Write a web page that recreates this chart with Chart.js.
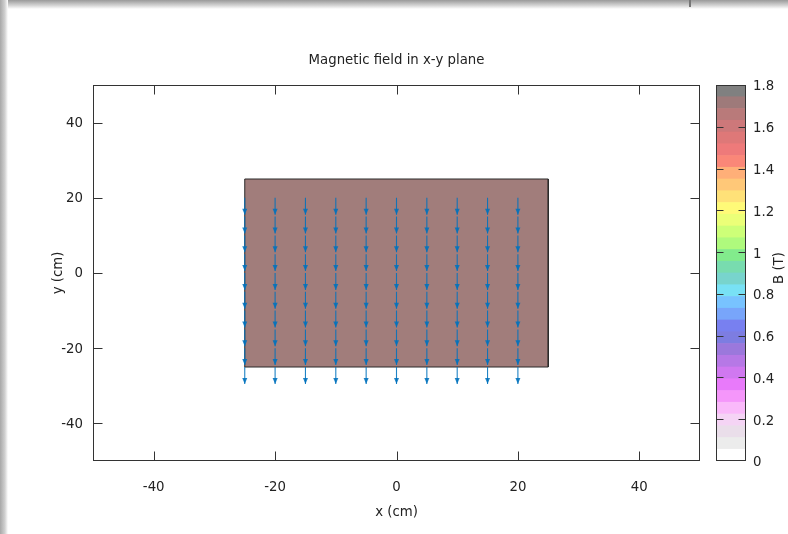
<!DOCTYPE html>
<html><head><meta charset="utf-8">
<script src="https://cdn.jsdelivr.net/npm/chart.js@4"></script>
<style>
html,body{margin:0;padding:0;background:#fff;width:788px;height:534px;overflow:hidden;position:relative}
#main{position:absolute;left:0;top:0}
#cb{position:absolute;left:700px;top:0}
.shT{position:absolute;left:0;top:0;width:788px;height:9px;background:linear-gradient(#9a9a9a,#d4d4d4 60%,#fff)}
.shL{position:absolute;left:0;top:0;width:8px;height:534px;background:linear-gradient(90deg,#a8a8a8,#d0d0d0 60%,#fff)}
.edge{position:absolute;left:689px;top:0;width:2px;height:7px;background:#777}
</style></head>
<body>
<canvas id="main" width="788" height="534"></canvas>
<canvas id="cb" width="88" height="534"></canvas>
<div class="shT"></div><div class="shL"></div><div class="edge"></div>
<script>
// ---- data ----
const titleText = 'Magnetic field in x-y plane';
const xTitle = 'x (cm)';
const yTitle = 'y (cm)';
const cbTitle = 'B (T)';
const xTicks = [-40, -20, 0, 20, 40];
const yTicks = [-40, -20, 0, 20, 40];
const magnetX = [-25, 25];
const magnetY = [-25, 25];
const arrowX = [-25, -20, -15, -10, -5, 0, 5, 10, 15, 20];
const arrowY = [20, 15, 10, 5, 0, -5, -10, -15, -20, -25];
const arrowBy = -4.5;   // scaled field vector (y component), x component 0
const cbTicks = [0, 0.2, 0.4, 0.6, 0.8, 1, 1.2, 1.4, 1.6, 1.8];
const cbMax = 1.8;
const cbColors = [ // bottom (0) to top (1.8)
 'rgb(255,255,255)','rgb(236,236,236)','rgb(234,222,234)','rgb(245,212,245)',
 'rgb(250,185,250)','rgb(245,150,250)','rgb(232,122,250)','rgb(208,120,240)',
 'rgb(182,120,230)','rgb(155,120,220)','rgb(125,125,225)','rgb(120,128,240)',
 'rgb(120,165,250)','rgb(120,195,255)','rgb(120,225,245)','rgb(120,212,205)',
 'rgb(120,220,175)','rgb(130,235,140)','rgb(175,250,125)','rgb(205,255,120)',
 'rgb(235,255,120)','rgb(255,250,120)','rgb(255,225,120)','rgb(255,200,120)',
 'rgb(255,175,120)','rgb(250,135,120)','rgb(238,122,122)','rgb(222,120,120)',
 'rgb(205,120,122)','rgb(185,122,122)','rgb(158,122,122)','rgb(128,128,128)'
];
// ---- build ----
const FONT = 'DejaVu Sans';
Chart.defaults.font.family = FONT;
Chart.defaults.font.size = 13.3;
Chart.defaults.color = '#222';

const rectPts = [
  {x: magnetX[0], y: magnetY[0]}, {x: magnetX[0], y: magnetY[1]},
  {x: magnetX[1], y: magnetY[1]}, {x: magnetX[1], y: magnetY[0]},
  {x: magnetX[0], y: magnetY[0]}
];
const shaftPts = [];
arrowX.forEach(x => arrowY.forEach(y => {
  shaftPts.push({x, y}, {x, y: y + arrowBy}, {x, y: null});
}));
const ARROW = 'rgba(0,114,189,0.88)';

const framePlugin = {
  id: 'frame',
  afterDatasetsDraw(chart) {
    const {ctx, scales} = chart;
    ctx.save();
    ctx.fillStyle = ARROW;
    arrowX.forEach(x => arrowY.forEach(y => {
      const px = scales.x.getPixelForValue(x);
      const py = scales.y.getPixelForValue(y + arrowBy);
      ctx.beginPath();
      ctx.moveTo(px, py);
      ctx.lineTo(px - 2.5, py - 6);
      ctx.lineTo(px + 2.5, py - 6);
      ctx.closePath();
      ctx.fill();
    }));
    ctx.restore();
  },
  afterDraw(chart) {
    const {ctx, chartArea: a, scales} = chart;
    ctx.save();
    ctx.strokeStyle = '#333';
    ctx.lineWidth = 1;
    const L = Math.round(a.left) + 0.5, R = Math.round(a.right) - 0.5;
    const T = Math.round(a.top) + 0.5, B = Math.round(a.bottom) - 0.5;
    ctx.strokeRect(L, T, R - L, B - T);
    ctx.beginPath();
    const tl = 9;
    xTicks.forEach(v => {
      const p = Math.round(scales.x.getPixelForValue(v)) + 0.5;
      ctx.moveTo(p, B); ctx.lineTo(p, B - tl);
      ctx.moveTo(p, T); ctx.lineTo(p, T + tl);
    });
    yTicks.forEach(v => {
      const p = Math.round(scales.y.getPixelForValue(v)) + 0.5;
      ctx.moveTo(L, p); ctx.lineTo(L + tl, p);
      ctx.moveTo(R, p); ctx.lineTo(R - tl, p);
    });
    ctx.stroke();
    // title centred over the plot area
    ctx.fillStyle = '#222';
    ctx.font = '13.3px "' + FONT + '"';
    ctx.textAlign = 'center';
    ctx.textBaseline = 'middle';
    ctx.fillText(titleText, (a.left + a.right) / 2, 61);
    ctx.restore();
  }
};

new Chart(document.getElementById('main'), {
  type: 'scatter',
  data: {
    datasets: [
      {type: 'line', data: rectPts, borderColor: '#2a2a2a', borderWidth: 1,
       backgroundColor: 'rgb(161,125,123)', fill: 'shape', pointRadius: 0, tension: 0, order: 3},
      {type: 'line', data: shaftPts, borderColor: ARROW, borderWidth: 1.1,
       pointRadius: 0, spanGaps: false, fill: false, tension: 0, order: 2}
    ]
  },
  options: {
    responsive: false, animation: false, events: [],
    layout: {padding: {left: 0, right: 88, top: 85, bottom: 0}},
    plugins: {legend: {display: false}, tooltip: {enabled: false}, title: {display: false}},
    scales: {
      x: {type: 'linear', min: -50, max: 50,
        grid: {display: false, drawTicks: false}, border: {display: false},
        afterBuildTicks: s => { s.ticks = xTicks.map(v => ({value: v})); },
        afterFit: s => { s.height = 73; },
        ticks: {padding: 19, callback: v => String(v), maxRotation: 0, autoSkip: false},
        title: {display: true, text: xTitle, padding: {top: 0, bottom: 13.5}}},
      y: {type: 'linear', min: -50, max: 50,
        grid: {display: false, drawTicks: false}, border: {display: false},
        afterBuildTicks: s => { s.ticks = yTicks.map(v => ({value: v})); },
        afterFit: s => { s.width = 93; },
        ticks: {padding: 10, labelOffset: 1, callback: v => String(v), autoSkip: false},
        title: {display: true, text: yTitle, padding: {top: 51, bottom: 0}}}
    }
  },
  plugins: [framePlugin]
});

const cbPlugin = {
  id: 'cbframe',
  afterDraw(chart) {
    const {ctx, chartArea: a, scales} = chart;
    ctx.save();
    ctx.strokeStyle = '#333';
    ctx.lineWidth = 1;
    const L = Math.round(a.left) + 0.5, R = Math.round(a.right) - 0.5;
    const T = Math.round(a.top) + 0.5, B = Math.round(a.bottom) - 0.5;
    ctx.strokeRect(L, T, R - L, B - T);
    ctx.beginPath();
    cbTicks.forEach(v => {
      if (v === 0 || v === cbMax) return;
      const p = Math.round(scales.y.getPixelForValue(v)) + 0.5;
      ctx.moveTo(L, p); ctx.lineTo(L + 7, p);
      ctx.moveTo(R, p); ctx.lineTo(R - 7, p);
    });
    ctx.stroke();
    ctx.translate(80, (a.top + a.bottom) / 2 - 5);
    ctx.rotate(-Math.PI / 2);
    ctx.fillStyle = '#222';
    ctx.font = '13.3px "' + FONT + '"';
    ctx.textAlign = 'center';
    ctx.textBaseline = 'middle';
    ctx.fillText(cbTitle, 0, 0);
    ctx.restore();
  }
};

new Chart(document.getElementById('cb'), {
  type: 'bar',
  data: {
    labels: [''],
    datasets: cbColors.map(c => ({
      data: [cbMax / cbColors.length], backgroundColor: c, borderWidth: 0,
      barPercentage: 1, categoryPercentage: 1, stack: 'cb'
    }))
  },
  options: {
    responsive: false, animation: false, events: [],
    layout: {padding: {left: 16, right: 0, top: 85, bottom: 73}},
    plugins: {legend: {display: false}, tooltip: {enabled: false}},
    scales: {
      x: {stacked: true, display: false},
      y: {stacked: true, position: 'right', min: 0, max: cbMax,
        grid: {display: false, drawTicks: false}, border: {display: false},
        afterBuildTicks: s => { s.ticks = cbTicks.map(v => ({value: v})); },
        afterFit: s => { s.width = 42; },
        ticks: {padding: 7, labelOffset: 2, callback: v => String(v), autoSkip: false}}
    }
  },
  plugins: [cbPlugin]
});
</script>
</body></html>
